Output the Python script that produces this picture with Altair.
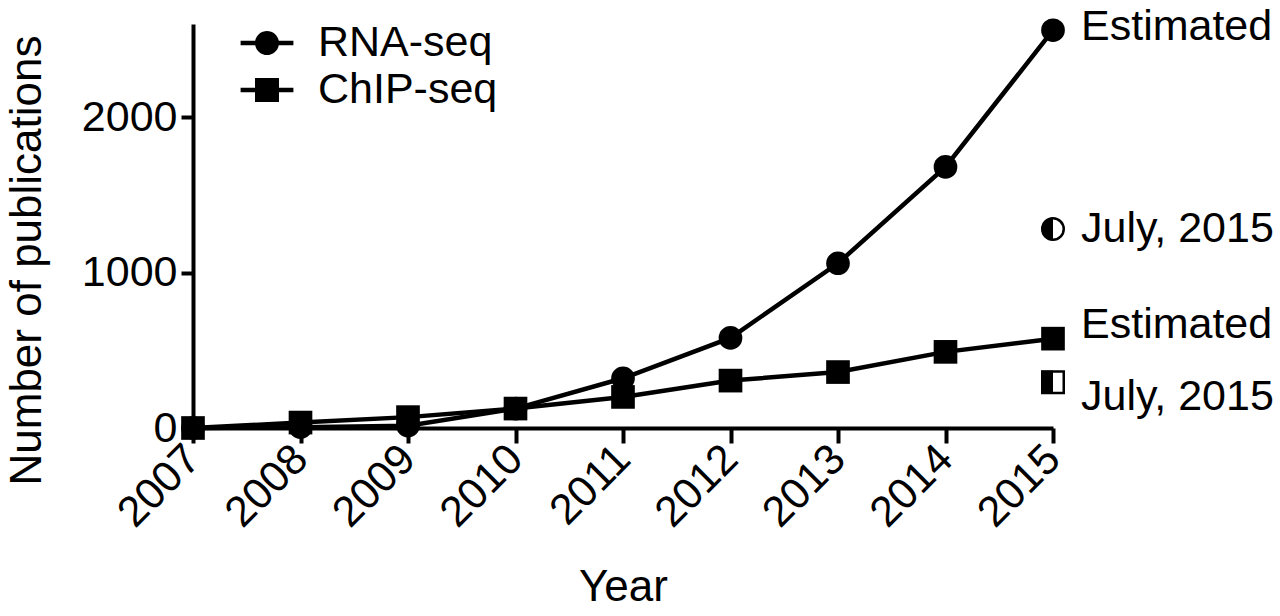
import altair as alt
import pandas as pd

# ---- data ----
years = [2007, 2008, 2009, 2010, 2011, 2012, 2013, 2014, 2015]
rna_seq = [0, 5, 15, 125, 320, 580, 1060, 1680, 2560]
chip_seq = [0, 35, 70, 125, 200, 305, 360, 490, 575]
series_names = ["RNA-seq", "ChIP-seq"]
july_year = 2015
july_values = [1280, 295]          # RNA-seq, ChIP-seq (publications up to July 2015)
label_estimated = "Estimated"
label_july = "July, 2015"
y_ticks = [0, 1000, 2000]

FONT = "Liberation Sans"
FS = 43

rows = []
for s, vals in zip(series_names, [rna_seq, chip_seq]):
    for yr, v in zip(years, vals):
        rows.append({"year": yr, "value": v, "series": s})
df = pd.DataFrame(rows)

july_df = pd.DataFrame({"year": [july_year] * 2, "value": july_values, "series": series_names})

x_enc = alt.X(
    "year:Q",
    scale=alt.Scale(domain=[years[0], years[-1]], nice=False, zero=False),
    axis=alt.Axis(
        values=years, format="d", title="Year", labelAngle=-45, labelAlign="right",
        labelBaseline="middle", tickSize=15, labelPadding=9, labelFlush=False,
        labelOverlap=False, titleY=172, titleBaseline="alphabetic",
    ),
)
y_enc = alt.Y(
    "value:Q",
    scale=alt.Scale(domain=[0, 2600], nice=False),
    axis=alt.Axis(
        values=y_ticks, format="d", title="Number of publications", tickSize=12, labelPadding=4,
        labelFlush=False, labelOverlap=False, titleX=-166, titleY=236, titleBaseline="middle",
    ),
)

base = alt.Chart(df)

lines = base.mark_line(color="black", strokeWidth=4.5).encode(
    x=x_enc, y=y_enc, detail="series:N"
)

points = base.mark_point(filled=True, color="black", opacity=1, size=560).encode(
    x="year:Q", y="value:Q",
    shape=alt.Shape("series:N", scale=alt.Scale(domain=series_names, range=["circle", "square"]), legend=None),
)

# legend symbols: line segment through marker
circ_path = ("M-1.2,-0.1H-0.536A0.545,0.545 0 0 1 0.536,-0.1H1.2V0.1H0.536"
             "A0.545,0.545 0 0 1 -0.536,0.1H-1.2Z")
sq_path = "M-1.2,-0.1H-0.545V-0.545H0.545V-0.1H1.2V0.1H0.545V0.545H-0.545V0.1H-1.2Z"

legend_layer = base.transform_filter("false").mark_point(filled=True, color="black", opacity=1).encode(
    x="year:Q", y="value:Q",
    shape=alt.Shape(
        "series:N",
        scale=alt.Scale(domain=series_names, range=[circ_path, sq_path]),
        legend=alt.Legend(
            title=None, orient="none", legendX=52, legendY=-3, symbolSize=1936,
            symbolStrokeWidth=0, labelFont=FONT, labelFontSize=FS, labelColor="black",
            labelOffset=29, rowPadding=3, padding=0, labelLimit=400,
        ),
    ),
)

# July 2015 half-filled markers
july_base = alt.Chart(july_df)
july_outline = july_base.mark_point(filled=False, fill="white", fillOpacity=1, stroke="black",
                                    strokeWidth=2.5, opacity=1, size=462).encode(
    x="year:Q", y="value:Q",
    shape=alt.Shape("series:N", scale=alt.Scale(domain=series_names, range=["circle", "square"]), legend=None),
)
july_half = july_base.mark_point(filled=True, color="black", opacity=1, size=529).encode(
    x="year:Q", y="value:Q",
    shape=alt.Shape("series:N", scale=alt.Scale(domain=series_names,
                    range=["M0,-1A1,1 0 0 0 0,1Z", "M-1,-1H0V1H-1Z"]), legend=None),
)

# annotation texts
annots = [
    (label_estimated, rna_seq[-1], -3),
    (label_july, july_values[0], 0),
    (label_estimated, chip_seq[-1], -14),
    (label_july, july_values[1], 15),
]
text_layers = []
for lab, val, dy in annots:
    t = alt.Chart(pd.DataFrame({"year": [years[-1]], "value": [val], "label": [lab]})).mark_text(
        align="left", baseline="middle", dx=28, dy=dy, font=FONT, fontSize=FS, color="black"
    ).encode(x="year:Q", y="value:Q", text="label:N")
    text_layers.append(t)

chart = alt.layer(lines, points, july_outline, july_half, legend_layer, *text_layers).resolve_scale(
    shape="independent"
).properties(
    width=860, height=404,
    autosize=alt.AutoSizeParams(type="none"),
    padding={"left": 193, "top": 24, "right": 227, "bottom": 188},
    background="white",
).configure_view(stroke=None).configure_axis(
    grid=False, domainColor="black", domainWidth=4, tickColor="black", tickWidth=4,
    labelColor="black", labelFont=FONT, labelFontSize=FS, titleColor="black",
    titleFont=FONT, titleFontSize=44, titleFontWeight="normal",
)

chart.save("out.html", embed_options={"renderer": "svg", "actions": False})
